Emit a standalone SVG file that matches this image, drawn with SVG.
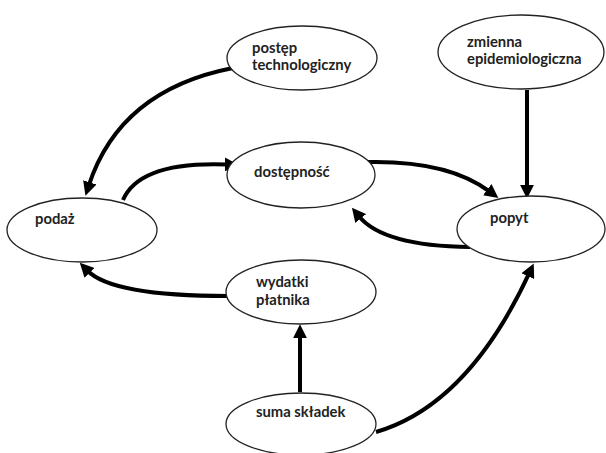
<svg xmlns="http://www.w3.org/2000/svg" width="606" height="453" viewBox="0 0 606 453">
<style>
.n ellipse{fill:#fff;stroke:#222;stroke-width:1.3}
.n text{font-family:Lato,"Liberation Sans",sans-serif;font-weight:bold;font-size:14.8px;fill:#222}
.c path{fill:none;stroke:#000;stroke-width:4;marker-end:url(#ah)}
</style>
<defs>
<marker id="ah" markerUnits="userSpaceOnUse" markerWidth="14" markerHeight="14" refX="3" refY="6.5" orient="auto" viewBox="0 0 13 13">
<path d="M0,0 L13,6.5 L0,13 z" fill="#000"/>
</marker>
</defs>
<rect width="606" height="453" fill="#fff"/>
<g class="c" id="connectors">
<path d="M233,68 Q120,90 88.8,185.4"/>
<path d="M123,200 Q140,161 228,164.6"/>
<path d="M366,162 Q448,160 489.8,191.6"/>
<path d="M470,247 Q383,246 358.7,216"/>
<path d="M228,296 Q112,296 87.3,270.5"/>
<path d="M300,392 L300,335"/>
<path d="M376,432 Q468,405 529.2,273.2"/>
<path d="M527,90 L527,188"/>
</g>
<g class="n" id="postep"><ellipse cx="302" cy="58" rx="75" ry="32"/><text x="252" y="53">postęp</text><text x="252" y="70">technologiczny</text></g>
<g class="n" id="zmienna"><ellipse cx="521" cy="52" rx="83" ry="37"/><text x="467" y="47">zmienna</text><text x="467" y="64">epidemiologiczna</text></g>
<g class="n" id="dostepnosc"><ellipse cx="301" cy="175" rx="74" ry="33"/><text x="254" y="177">dostępność</text></g>
<g class="n" id="podaz"><ellipse cx="82" cy="230" rx="75" ry="32"/><text x="35" y="224">podaż</text></g>
<g class="n" id="popyt"><ellipse cx="531" cy="229" rx="74" ry="33"/><text x="490" y="223">popyt</text></g>
<g class="n" id="wydatki"><ellipse cx="301" cy="292" rx="75" ry="32"/><text x="256" y="287">wydatki</text><text x="256" y="305">płatnika</text></g>
<g class="n" id="suma"><ellipse cx="301" cy="424" rx="75" ry="31"/><text x="256" y="417">suma składek</text></g>
</svg>
